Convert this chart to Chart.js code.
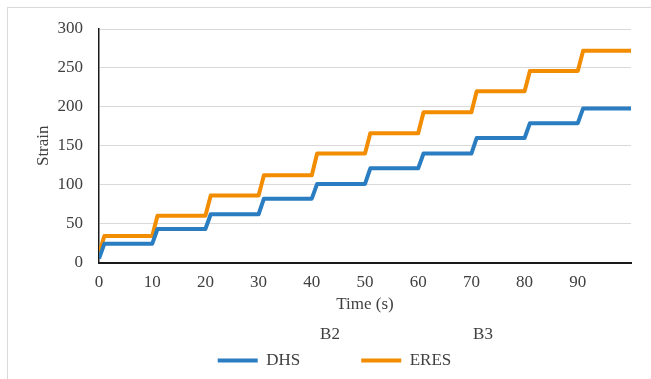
<!DOCTYPE html>
<html>
<head>
<meta charset="utf-8">
<script src="https://cdn.jsdelivr.net/npm/chart.js@4.4.1/dist/chart.umd.min.js"></script>
<style>
    html, body { margin: 0; padding: 0; background: #ffffff; }
    #wrap { position: relative; width: 651px; height: 379px; }
    #frame {
        position: absolute; left: 7px; top: 7px; right: 0; bottom: 0;
        border-left: 1px solid #d9d9d9; border-top: 1px solid #d9d9d9;
    }
    #chart { position: absolute; left: 0; top: 0; }
</style>
</head>
<body>
<div id="wrap">
    <div id="frame"></div>
    <canvas id="chart" width="651" height="379"></canvas>
</div>
<script>
// ============================================
// DATA
// ============================================
const timeSec = [0, 1, 10, 11, 20, 21, 30, 31, 40, 41, 50, 51, 60, 61, 70, 71, 80, 81, 90, 91, 100];
const dhsStrain = [5, 24, 24, 43, 43, 62, 62, 82, 82, 101, 101, 121, 121, 140, 140, 160, 160, 179, 179, 198, 198];
const eresStrain = [11, 34, 34, 60, 60, 86, 86, 112, 112, 140, 140, 166, 166, 193, 193, 220, 220, 246, 246, 272, 272];
const seriesNames = ['DHS', 'ERES'];
const extraLabels = ['B2', 'B3'];

const TEXT = '#404040';
const FONT = { family: '"Liberation Serif", "Times New Roman", serif', size: 17 };

function toPoints(xs, ys) {
    return xs.map((x, i) => ({ x: x, y: ys[i] }));
}

// loose "B2" / "B3" captions that sit between axis title and legend
const captionPlugin = {
    id: 'captions',
    afterDraw(chart) {
        const ctx = chart.ctx;
        ctx.save();
        ctx.font = FONT.size + 'px ' + FONT.family;
        ctx.fillStyle = TEXT;
        ctx.textAlign = 'center';
        ctx.textBaseline = 'middle';
        ctx.fillText(extraLabels[0], 330, 335);
        ctx.fillText(extraLabels[1], 483, 335);
        ctx.restore();
    }
};

new Chart(document.getElementById('chart'), {
    type: 'line',
    data: {
        datasets: [{
            label: seriesNames[0],
            data: toPoints(timeSec, dhsStrain),
            borderColor: '#2a7dc0',
            backgroundColor: '#2a7dc0',
            borderWidth: 4,
            borderJoinStyle: 'round',
            pointRadius: 0,
            tension: 0
        }, {
            label: seriesNames[1],
            data: toPoints(timeSec, eresStrain),
            borderColor: '#f28c00',
            backgroundColor: '#f28c00',
            borderWidth: 4,
            borderJoinStyle: 'round',
            pointRadius: 0,
            tension: 0
        }]
    },
    options: {
        responsive: false,
        animation: false,
        layout: { padding: { left: 38, right: 20, top: 29, bottom: 0 } },
        plugins: {
            tooltip: { enabled: false },
            legend: {
                position: 'bottom',
                labels: {
                    color: TEXT,
                    font: FONT,
                    boxWidth: 40,
                    boxHeight: 4,
                    padding: 10,
                    generateLabels(chart) {
                        const items = Chart.defaults.plugins.legend.labels.generateLabels(chart);
                        // widen the first entry so the second sits where Excel put it
                        items[0].text = items[0].text + '\u0020'.repeat(12);
                        items.forEach(it => { it.lineWidth = 0; });
                        return items;
                    }
                }
            }
        },
        scales: {
            x: {
                type: 'linear',
                min: 0,
                max: 100,
                grid: { display: false, drawTicks: false },
                border: { display: true, color: '#1a1a1a', width: 2 },
                ticks: {
                    stepSize: 10,
                    padding: 10,
                    color: TEXT,
                    font: FONT,
                    maxRotation: 0,
                    callback: v => (v >= 100 ? '' : v)
                },
                title: {
                    display: true,
                    text: 'Time (s)',
                    color: TEXT,
                    font: FONT,
                    padding: { top: 0, bottom: 27 }
                },
                afterFit(scale) { scale.height = 79.5; }
            },
            y: {
                min: 0,
                max: 300,
                grid: { color: '#d9d9d9', lineWidth: 1, drawTicks: false },
                border: { display: true, color: '#1a1a1a', width: 1.5 },
                ticks: {
                    stepSize: 50,
                    padding: 16,
                    color: TEXT,
                    font: FONT
                },
                title: {
                    display: true,
                    text: 'Strain',
                    color: TEXT,
                    font: FONT,
                    padding: { top: -5, bottom: 5 }
                },
                afterFit(scale) { scale.width = 61; }
            }
        }
    },
    plugins: [captionPlugin]
});
</script>
</body>
</html>
